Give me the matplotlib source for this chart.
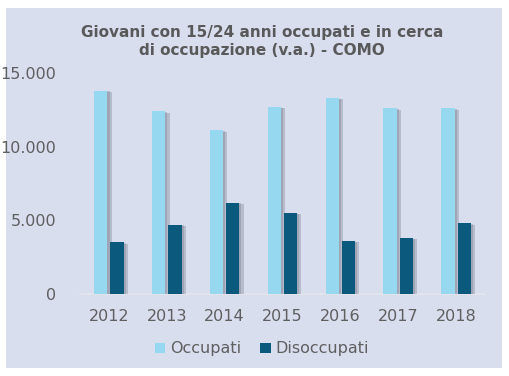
import matplotlib
matplotlib.use("Agg")
import matplotlib.pyplot as plt
import matplotlib.patheffects as pe
from matplotlib.patches import Rectangle, Patch
import numpy as np

years = ["2012", "2013", "2014", "2015", "2016", "2017", "2018"]
occupati = [13800, 12400, 11100, 12700, 13300, 12600, 12600]
disoccupati = [3500, 4700, 6200, 5500, 3600, 3800, 4800]
yticks = [0, 5000, 10000, 15000]
ytick_labels = ["0", "5.000", "10.000", "15.000"]

plt.rcParams['font.family'] = ['DejaVu Sans']

W, H = 510, 376
fig = plt.figure(figsize=(W / 100, H / 100), dpi=100)
fig.patch.set_facecolor("white")
bg = "#D9DEEF"
fig.patches.append(Rectangle((6 / W, 1 - 368 / H), 496 / W, 360 / H,
                             transform=fig.transFigure, facecolor=bg,
                             edgecolor="none", zorder=-10))

ax = fig.add_axes([80 / W, 1 - 294 / H, 405 / W, (294 - 73) / H])
ax.set_zorder(5)
ax.set_facecolor("none")
x = np.arange(len(years))
bw = 0.23
off = 0.14
c_occ = "#97D8F1"
c_dis = "#0B5A7E"
shadow = [pe.SimplePatchShadow(offset=(3, -1), shadow_rgbFace="#6a7080", alpha=0.3),
          pe.SimplePatchShadow(offset=(1.5, -0.5), shadow_rgbFace="#6a7080", alpha=0.3),
          pe.Normal()]
b1 = ax.bar(x - off, occupati, bw, color=c_occ, zorder=3)
b2 = ax.bar(x + off, disoccupati, bw, color=c_dis, zorder=3)
for b in list(b1) + list(b2):
    b.set_path_effects(shadow)

ax.set_xlim(-0.5, len(years) - 0.5)
ax.set_ylim(0, 15000)
ax.set_yticks(yticks)
ax.set_yticklabels(ytick_labels)
ax.set_xticks(x)
ax.set_xticklabels(years)
for s in ["top", "right", "left"]:
    ax.spines[s].set_visible(False)
ax.spines["bottom"].set_color("#E4E6EC")
ax.spines["bottom"].set_linewidth(1.2)
ax.tick_params(axis="both", length=0, colors="#5f5f5f", labelsize=11.5)
ax.tick_params(axis="y", pad=17)
ax.tick_params(axis="x", pad=11)

fig.text(262 / W, 1 - 41 / H, "Giovani con 15/24 anni occupati e in cerca\ndi occupazione (v.a.) - COMO",
         ha="center", va="center", fontsize=11, fontweight="bold", color="#595959",
         linespacing=1.25)

handles = [Patch(facecolor=c_occ), Patch(facecolor=c_dis)]
leg = fig.legend(handles=handles, labels=["Occupati", "Disoccupati"],
                 loc="center", bbox_to_anchor=(262 / W, 1 - 349 / H), ncol=2,
                 frameon=False, fontsize=11.5, handlelength=0.65, handleheight=0.65,
                 handletextpad=0.3, columnspacing=1.2, labelcolor="#5f5f5f")

fig.savefig("out.png", dpi=100, facecolor="white")
